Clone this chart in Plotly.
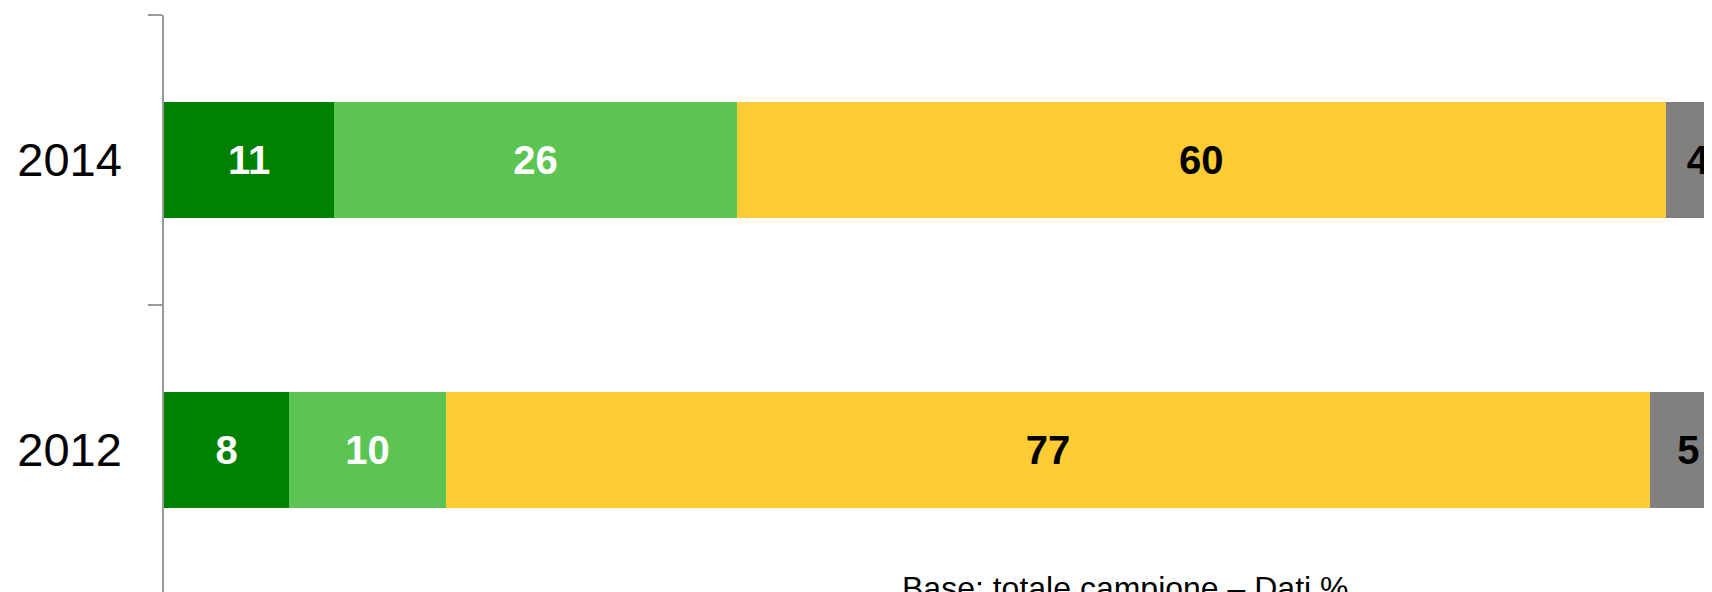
import plotly.graph_objects as go

# data
years = ["2014", "2012"]
series_names = ["Molto", "Abbastanza", "Poco / per niente", "Non sa"]
values_2014 = [11.0, 26.0, 60.0, 4.2]
values_2012 = [8.1, 10.1, 77.8, 4.9]
labels_2014 = ["11", "26", "60", "4"]
labels_2012 = ["8", "10", "77", "5"]
colors = ["#008000", "#5BC453", "#FFCC33", "#808080"]
text_colors = ["white", "white", "black", "black"]
note = "Base: totale campione – Dati %"

fig = go.Figure()

for i, name in enumerate(series_names):
    fig.add_trace(go.Bar(
        name=name,
        y=years,
        x=[values_2014[i], values_2012[i]],
        orientation='h',
        marker=dict(color=colors[i], line=dict(width=0)),
        text=[labels_2014[i], labels_2012[i]],
        textposition='inside',
        insidetextanchor='middle',
        textangle=0,
        textfont=dict(size=40, color=text_colors[i], family="Liberation Sans", weight='bold'),
        hoverinfo='skip',
    ))

fig.update_layout(
    barmode='stack',
    bargap=0.6,
    width=1712,
    height=592,
    showlegend=False,
    paper_bgcolor='white',
    plot_bgcolor='white',
    margin=dict(l=156, r=0, t=7, b=5, autoexpand=False),
    font=dict(family="Liberation Sans", color='black'),
    uniformtext=dict(minsize=40, mode='show'),
)

fig.update_xaxes(range=[0, 100.5], visible=False, showgrid=False)
fig.update_yaxes(
    categoryorder='array',
    categoryarray=["2012", "2014"],
    range=[-0.5, 1.5],
    showline=True,
    linecolor='#999999',
    linewidth=1.5,
    ticks='outside',
    tickson='boundaries',
    ticklen=14,
    tickcolor='#999999',
    tickwidth=1.5,
    tickfont=dict(size=47, color='black', family="Liberation Sans"),
    ticklabelstandoff=31,
    showgrid=False,
    automargin=False,
    zeroline=False,
)

# footnote, partly below the visible page as in the reference
fig.add_annotation(
    text=note,
    xref='paper', yref='paper',
    x=(1117 - 156) / (1712 - 156), y=0.047,
    xanchor='center', yanchor='top',
    showarrow=False,
    font=dict(size=32, color='black', family="Liberation Sans"),
)

fig.write_html("out.html")
